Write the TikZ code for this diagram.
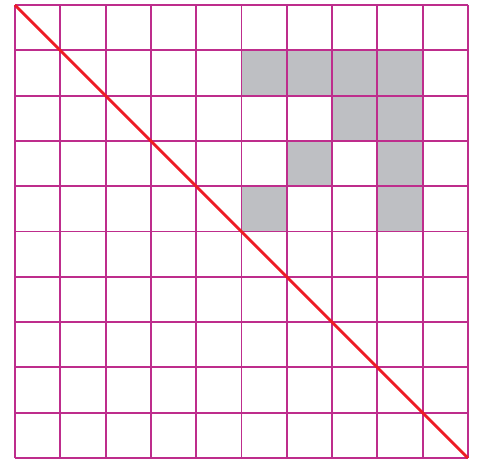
\documentclass[tikz,border=0pt]{standalone}
\usepackage{tikz}

\definecolor{gitter}{RGB}{190,45,140}
\definecolor{feld}{RGB}{190,191,195}
\definecolor{diag}{RGB}{237,28,36}

\begin{document}
\begin{tikzpicture}[scale=1, >=latex]

    % Rand festlegen
    \useasboundingbox (-0.33,-0.02) rectangle (10.265,10.11);

    % graue Felder (Spalte, Zeile von unten)
    \foreach \sx/\sy in {5/8, 6/8, 7/8, 8/8, 7/7, 8/7, 6/6, 8/6, 5/5, 8/5}
    \fill[feld] (\sx,\sy) rectangle ++(1,1);

    % Gitter 10 x 10
    \draw[gitter, line width=1.2pt] (0,0) grid (10,10);

    % Diagonale
    \draw[diag, line width=1.8pt] (0,10) -- (10,0);

\end{tikzpicture}
\end{document}
